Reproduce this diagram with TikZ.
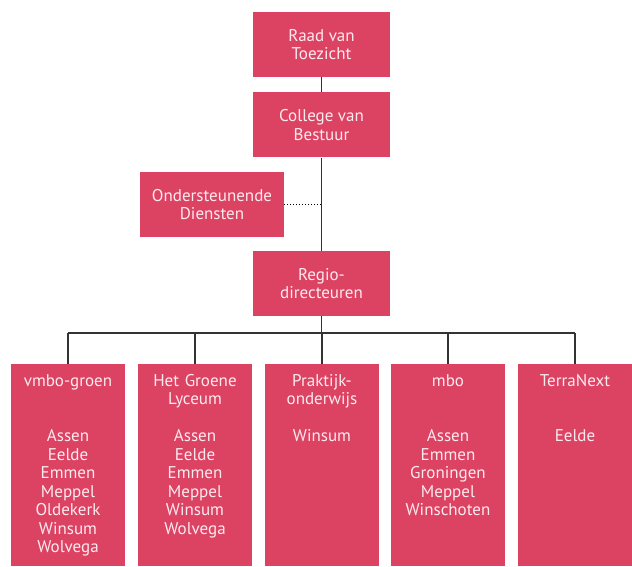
\documentclass[tikz,border=0pt]{standalone}
\usepackage{fontspec}
\setmainfont{PT Sans}
\usepackage{tikz}
\usetikzlibrary{positioning}

\definecolor{aeres}{RGB}{220,67,99}
\definecolor{boxtext}{RGB}{252,234,239}

\tikzset{
    org/.style={fill=aeres, text=boxtext, align=center, inner sep=0pt,
        font=\fontsize{17}{18.5}\selectfont},
    topbox/.style={org, minimum width=137pt, minimum height=65pt},
    unitbox/.style={org, anchor=north, text width=114pt, text height=22pt, text depth=180pt},
    link/.style={draw=black!80, line width=1.4pt},
}

\begin{document}
\begin{tikzpicture}[x=1pt, y=-1pt]
        \useasboundingbox (0,0) rectangle (632,566);
        % top of the organisation
        \node[topbox] (raad) at (321.5,44.5) {Raad van\\Toezicht};
        \node[topbox, below=15pt of raad] (college) {College van\\Bestuur};
        \node[topbox, minimum width=144pt] (diensten) at (212,204.5) {Ondersteunende\\Diensten};
        \node[topbox] (regio) at (321.5,283.5) {Regio-\\directeuren};
        % units
        \node[unitbox] (vmbo) at (68,364) {vmbo-groen\\[37pt]Assen\\Eelde\\Emmen\\Meppel\\Oldekerk\\Winsum\\Wolvega};
        \node[unitbox] (groene) at (195,364) {Het Groene\\Lyceum\\[18.5pt]Assen\\Eelde\\Emmen\\Meppel\\Winsum\\Wolvega};
        \node[unitbox] (praktijk) at (322,364) {Praktijk-\\onderwijs\\[18.5pt]Winsum};
        \node[unitbox] (mbo) at (448,364) {mbo\\[37pt]Assen\\Emmen\\Groningen\\Meppel\\Winschoten};
        \node[unitbox] (terra) at (575,364) {TerraNext\\[37pt]Eelde};
        \coordinate (bar) at (0,333);
        \coordinate (dienstlink) at (college.south |- diensten.east);
        % connectors
        \draw[link] (raad) -- (college);
        \draw[link] (college) -- (regio);
        \draw[dotted, line width=1pt] (diensten.east) -- (dienstlink);
        \draw[link] (regio.south) -- (regio.south |- bar);
        \draw[link] (vmbo.north |- bar) -- (terra.north |- bar);
        \foreach \unit in {vmbo,groene,praktijk,mbo,terra}
            \draw[link] (\unit.north) -- (\unit.north |- bar);
    \end{tikzpicture}
\end{document}
